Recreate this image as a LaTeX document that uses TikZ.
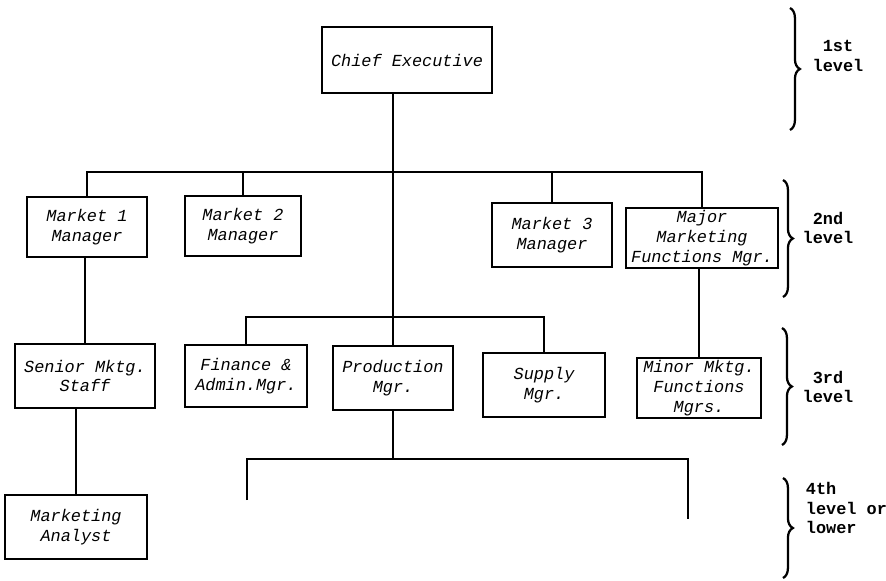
\documentclass[tikz,border=0pt]{standalone}
\usepackage{fontspec}
\setmonofont{Liberation Mono}
\usetikzlibrary{decorations.pathreplacing}

\begin{document}
\begin{tikzpicture}[x=0.025cm,y=-0.025cm,
	post/.style={draw,line width=1.5pt,align=center,inner ysep=-6pt,font=\ttfamily\itshape\fontsize{12}{14}\selectfont},
	link/.style={line width=1.2pt},
	bar/.style={line width=1.8pt},
	tier/.style={decorate,decoration={brace,amplitude=7pt},line width=1.6pt},
	tiername/.style={font=\ttfamily\bfseries\fontsize{12}{14}\selectfont,align=center}]
	\useasboundingbox (0,0) rectangle (886,580);

	\node[post,minimum width=4.25cm,minimum height=1.65cm] (ce) at (407,60) {Chief Executive};

	\node[post,minimum width=3cm,minimum height=1.5cm] (m1) at (87,227) {Market 1\\Manager};
	\node[post,minimum width=2.9cm,minimum height=1.52cm] (m2) at (243,226) {Market 2\\Manager};
	\node[post,minimum width=3cm,minimum height=1.6cm] (m3) at (552,235) {Market 3\\Manager};
	\node[post,minimum width=3.65cm,minimum height=1.5cm] (major) at (702,238) {Major\\Marketing\\Functions Mgr.};

	\node[post,minimum width=3.5cm,minimum height=1.58cm] (senior) at (85,376) {Senior Mktg.\\Staff};
	\node[post,minimum width=3.05cm,minimum height=1.55cm] (fin) at (246,376) {Finance \&\\Admin.Mgr.};
	\node[post,minimum width=3cm,minimum height=1.62cm] (prod) at (393,378) {Production\\Mgr.};
	\node[post,minimum width=3.05cm,minimum height=1.62cm] (sup) at (544,385) {Supply\\Mgr.};
	\node[post,minimum width=3.08cm,minimum height=1.52cm] (minor) at (699,388) {Minor Mktg.\\Functions\\Mgrs.};

	\node[post,minimum width=3.55cm,minimum height=1.58cm] (analyst) at (76,527) {Marketing\\Analyst};

	\coordinate (bar2) at (87,172);
	\coordinate (bar3) at (246,317);
	\coordinate (bar4) at (247,459);
	\coordinate (end4l) at (247,500);
	\coordinate (end4r) at (688,519);

	\draw[link] (ce.south -| prod.north) -- (prod.north);
	\draw[bar] (m1.north) -- (bar2) -- (bar2 -| major.north) -- (major.north);
	\draw[link] (m2.north) -- (m2.north |- bar2);
	\draw[link] (m3.north) -- (m3.north |- bar2);

	\draw[link] (senior.north |- m1.south) -- (senior.north);
	\draw[link] (analyst.north |- senior.south) -- (analyst.north);
	\draw[link] (fin.north) -- (bar3) -- (bar3 -| sup.north) -- (sup.north);
	\draw[link] (minor.north |- major.south) -- (minor.north);

	\draw[link] (prod.south) -- (prod.south |- bar4);
	\draw[bar] (end4l) -- (bar4) -- (bar4 -| end4r) -- (end4r);

	\coordinate (t1a) at (790,8);
	\coordinate (t1b) at (790,130);
	\coordinate (t2a) at (783,180);
	\coordinate (t2b) at (783,297);
	\coordinate (t3a) at (782,328);
	\coordinate (t3b) at (782,445);
	\coordinate (t4a) at (783,478);
	\coordinate (t4b) at (783,578);
	\draw[tier] (t1a) -- (t1b);
	\draw[tier] (t2a) -- (t2b);
	\draw[tier] (t3a) -- (t3b);
	\draw[tier] (t4a) -- (t4b);

	\node[tiername] (lvl1) at (838,56) {1st\\level};
	\node[tiername] (lvl2) at (828,228) {2nd\\level};
	\node[tiername] (lvl3) at (828,387) {3rd\\level};
	\node[tiername,anchor=west,align=left] (lvl4) at (801,508) {4th\\level or\\lower};
\end{tikzpicture}
\end{document}
